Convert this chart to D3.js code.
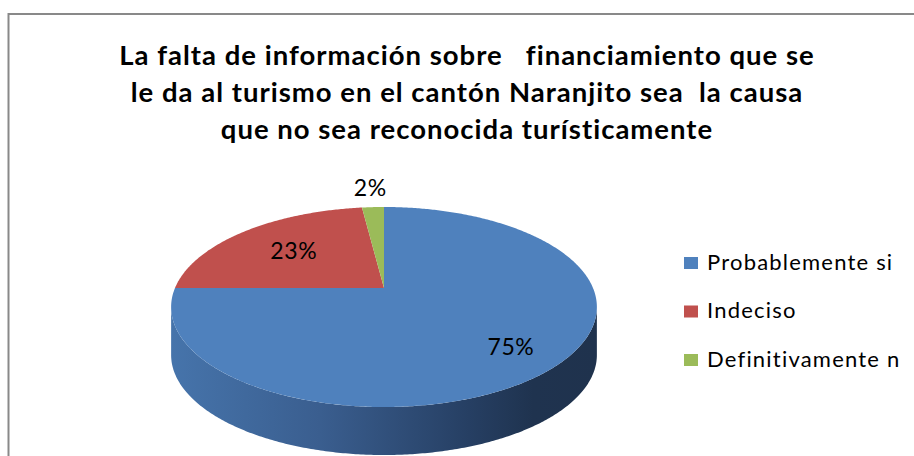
<!DOCTYPE html>
<html>
<head>
<meta charset="utf-8">
<script src="https://cdn.jsdelivr.net/npm/d3@7"></script>
<style>
  body { margin: 0; background: #fff; }
  svg { display: block; }
  text { font-family: Lato, "Open Sans", sans-serif; }
</style>
</head>
<body>
<svg id="chart" width="914" height="456"></svg>
<script>
// data
var titleLines = [
    "La falta de información sobre   financiamiento que se",
    "le da al turismo en el cantón Naranjito sea  la causa",
    "que no sea reconocida turísticamente"
];
var categories = ["Probablemente si", "Indeciso", "Definitivamente n"];
var values = [75, 23, 2];
var colors = ["#4f81bd", "#c0504d", "#9bbb59"];

var width = 914, height = 456;
var svg = d3.select("#chart");

// chart frame (runs off the right and bottom of the picture)
svg.append("rect")
    .attr("x", 8.5).attr("y", 14)
    .attr("width", 1000).attr("height", 600)
    .attr("fill", "#fff")
    .attr("stroke", "#898989")
    .attr("stroke-width", 2);

// title
var title = svg.append("g").attr("class", "title");
title.selectAll("text")
    .data(titleLines)
    .enter().append("text")
    .attr("x", 467)
    .attr("y", function(d, i) { return 65 + i * 37; })
    .attr("text-anchor", "middle")
    .style("white-space", "pre")
    .style("font-weight", "bold")
    .style("font-size", "27.5px")
    .style("letter-spacing", "1px")
    .attr("fill", "#000")
    .text(function(d) { return d; });

// 3d pie: tilted disc with a bit of perspective
var cx = 384, cy = 288, U = 209, V = 96.4, p = 0.19, depth = 48;

function proj(a, r, dz) {
    var u = r * Math.sin(a), v = -r * Math.cos(a);
    var w = 1 - p * v;
    return [cx + U * u / w, cy + V * v / w + (dz || 0)];
}

function rim(a0, a1, dz) {
    var n = Math.max(2, Math.ceil(Math.abs(a1 - a0) / 0.01));
    return d3.range(n + 1).map(function(i) {
        return proj(a0 + (a1 - a0) * i / n, 1, dz);
    });
}

var pie = d3.pie().sort(null).startAngle(0).endAngle(2 * Math.PI);
var arcs = pie(values);

// side wall: front half of the disc, between the silhouette points
var sA = Math.acos(-p), sB = 2 * Math.PI - Math.acos(-p);
var grad = svg.append("defs").append("linearGradient")
    .attr("id", "side").attr("gradientUnits", "userSpaceOnUse")
    .attr("x1", 171).attr("x2", 597).attr("y1", 0).attr("y2", 0);
grad.selectAll("stop")
    .data([[0, "#4674ab"], [0.35, "#3a5e8f"], [0.7, "#263f63"], [0.85, "#1f334f"], [1, "#1f324d"]])
    .enter().append("stop")
    .attr("offset", function(d) { return d[0]; })
    .attr("stop-color", function(d) { return d[1]; });

var sidePts = rim(sA, sB, 0).concat(rim(sB, sA, depth));
svg.append("path")
    .attr("d", d3.line()(sidePts) + "Z")
    .attr("fill", "url(#side)");

// top faces
svg.append("g").attr("class", "slices")
    .selectAll("path")
    .data(arcs)
    .enter().append("path")
    .attr("d", function(d) {
        return d3.line()([[cx, cy]].concat(rim(d.startAngle, d.endAngle, 0))) + "Z";
    })
    .attr("fill", function(d, i) { return colors[i]; });

// percentage labels
var total = d3.sum(values);
var labelRadius = function(d) {
    var share = d.value / total;
    if (share < 0.05) return 1.3;
    return share > 0.5 ? 0.77 : 0.62;
};
svg.append("g").attr("class", "labels")
    .selectAll("text")
    .data(arcs)
    .enter().append("text")
    .attr("transform", function(d) {
        var pt = proj((d.startAngle + d.endAngle) / 2, labelRadius(d), 0);
        return "translate(" + pt[0] + "," + pt[1] + ")";
    })
    .attr("dy", "0.35em")
    .attr("text-anchor", "middle")
    .style("font-size", "23px")
    .style("letter-spacing", "0.6px")
    .attr("fill", "#000")
    .text(function(d) { return Math.round(d.value / total * 100) + "%"; });

// legend
var legend = svg.append("g").attr("class", "legend")
    .selectAll("g")
    .data(categories)
    .enter().append("g")
    .attr("transform", function(d, i) { return "translate(684," + (263 + i * 48.5) + ")"; });

legend.append("rect")
    .attr("x", 0).attr("y", -6)
    .attr("width", 14).attr("height", 12)
    .attr("fill", function(d, i) { return colors[i]; });

legend.append("text")
    .attr("x", 23).attr("y", 6.5)
    .style("font-size", "22px")
    .style("letter-spacing", "1.2px")
    .attr("fill", "#000")
    .text(function(d) { return d; });
</script>
</body>
</html>
